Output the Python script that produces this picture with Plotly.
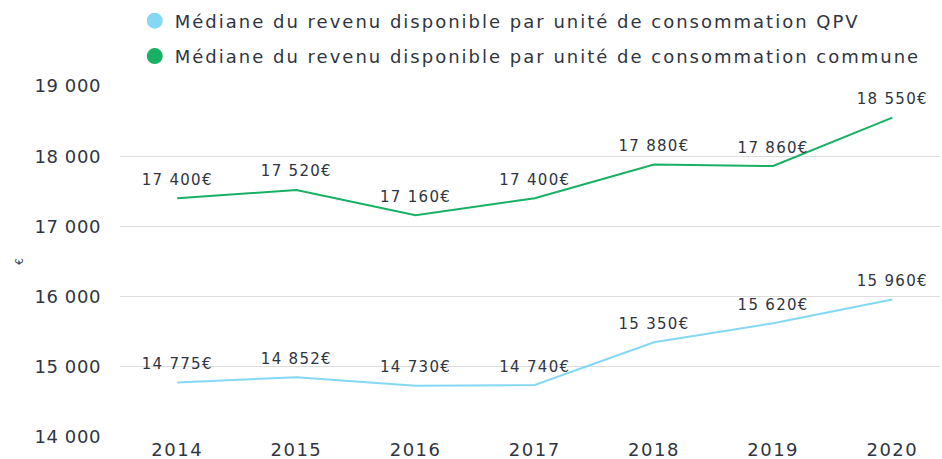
import plotly.graph_objects as go

years = ["2014", "2015", "2016", "2017", "2018", "2019", "2020"]
qpv = [14775, 14852, 14730, 14740, 15350, 15620, 15960]
commune = [17400, 17520, 17160, 17400, 17880, 17860, 18550]
qpv_name = "Médiane du revenu disponible par unité de consommation QPV"
commune_name = "Médiane du revenu disponible par unité de consommation commune"
y_ticks = [14000, 15000, 16000, 17000, 18000, 19000]

def sp(s, ls):
    return f'<span style="letter-spacing:{ls}px">{s}</span>'

def fmt(v):
    return f"{v:,}".replace(",", " ") + "€"

BLUE = "#84d8f4"
GREEN = "#17b064"
TXT = "#2f3542"
FONT = "DejaVu Sans"

fig = go.Figure()
for name, vals, col, grp in [(qpv_name, qpv, BLUE, "a"), (commune_name, commune, GREEN, "b")]:
    fig.add_trace(go.Scatter(
        x=years, y=vals, mode="lines+markers+text", text=[sp(fmt(v), 1.3) for v in vals],
        textposition="top center", textfont=dict(size=15, color=TXT, family=FONT),
        line=dict(color=col, width=2), marker=dict(size=14, color="rgba(0,0,0,0)"),
        showlegend=False, cliponaxis=False, hoverinfo="x+y",
    ))
    fig.add_trace(go.Scatter(
        x=[None], y=[None], mode="markers", name=sp(name, 2.0), legendgroup=grp,
        marker=dict(color=col, size=16, symbol="circle"), showlegend=True,
    ))

fig.update_layout(
    width=942, height=459,
    margin=dict(l=120, r=2, t=86, b=22, autoexpand=False),
    paper_bgcolor="white", plot_bgcolor="white",
    font=dict(family=FONT, color=TXT, size=16),
    legend=dict(x=0.018, y=1.238, xanchor="left", yanchor="top",
                traceorder="grouped", tracegroupgap=9,
                font=dict(size=18, color=TXT, family=FONT),
                bgcolor="rgba(0,0,0,0)"),
    xaxis=dict(type="category", range=[-0.48, 6.4], showgrid=False, showline=False,
               ticks="", tickvals=years, ticktext=[sp(y, 1.5) for y in years],
               tickfont=dict(size=18, color=TXT), automargin=False),
    yaxis=dict(range=[14000, 19000], tickvals=y_ticks,
               ticktext=[sp(f"{t:,}".replace(",", " "), 0.6) for t in y_ticks],
               showgrid=True, gridcolor="#dddddd", gridwidth=1, zeroline=False,
               showline=False, ticks="", ticklabelstandoff=18,
               tickfont=dict(size=18, color=TXT), automargin=False),
    annotations=[dict(text="€", textangle=-90, xref="paper", yref="paper",
                      x=-0.132, y=0.5, showarrow=False,
                      font=dict(size=10, color=TXT, family=FONT))],
)

fig.write_html("out.html", config={"displayModeBar": False},
               post_script="document.body.style.margin='0';document.body.style.overflow='hidden';")
